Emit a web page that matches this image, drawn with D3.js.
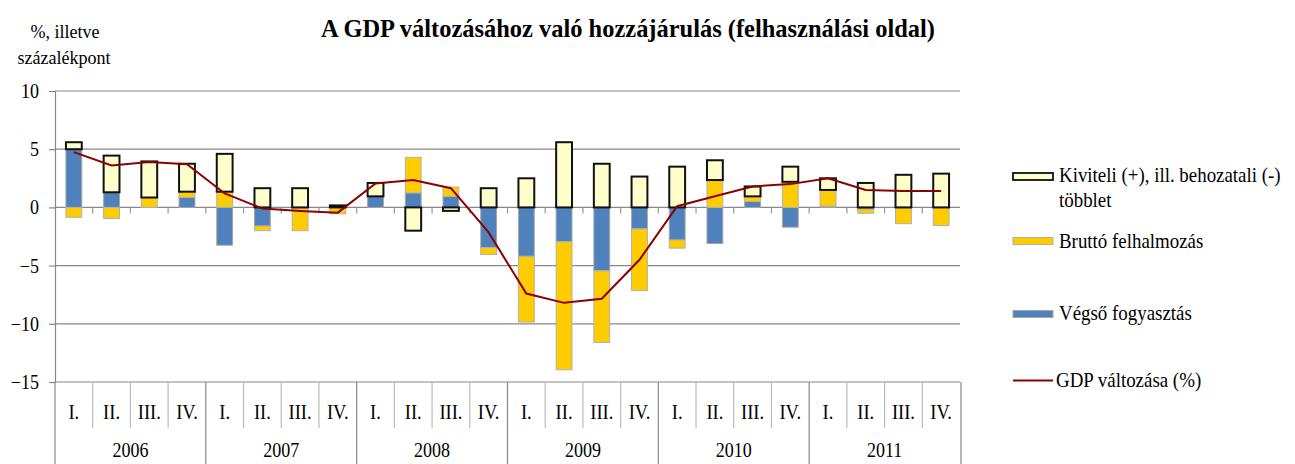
<!DOCTYPE html>
<html><head><meta charset="utf-8">
<script src="https://cdn.jsdelivr.net/npm/d3@7"></script>
</head><body style="margin:0;background:#fff"><svg id="c" width="1295" height="464"></svg>
<script>
const years = ["2006","2007","2008","2009","2010","2011"];
const quarters = ["I.","II.","III.","IV."];
const categories = years.flatMap(y => quarters.map(q => y + " " + q));
const vegsoFogyasztas = [5.0,1.3,0.0,0.85, -3.25,-1.6,-0.05,0.0, 0.95,1.25,0.95,-3.45, -4.2,-2.95,-5.45,-1.85, -2.8,-3.1,0.5,-1.7, 0.1,-0.15,-0.05,0.0];
const bruttoFelhalmozas = [-0.85,-0.95,0.85,0.5, 1.35,-0.4,-1.95,-0.55, 0.0,3.05,0.8,-0.6, -5.65,-11.0,-6.15,-5.3, -0.7,2.35,0.45,2.2, 1.4,-0.35,-1.35,-1.55];
const kiviteliTobblet = [0.6,3.15,3.1,2.4, 3.25,1.65,1.65,0.17, 1.15,-2.0,-0.3,1.65, 2.5,5.6,3.75,2.65, 3.5,1.7,0.85,1.3, 1.0,2.1,2.8,2.9];
const gdpValtozas = [4.75,3.6,3.9,3.7, 1.2,-0.1,-0.3,-0.45, 2.05,2.35,1.65,-2.15, -7.4,-8.2,-7.85,-4.5, 0.1,0.95,1.8,2.0, 2.5,1.5,1.4,1.4];
const yTicks = [10,5,0,-5,-10,-15];

const FONT = "Liberation Serif";
const svg = d3.select("#c").attr("font-family", FONT);
const L = 55, R = 960, T = 91, B = 382;
const x = d3.scaleBand().domain(categories).range([L, R]).padding(0);
const y = d3.scaleLinear().domain([-15, 10]).range([B, T]);
const bw = x.bandwidth() * 0.42;

function txt(g, xx, yy, s, size, anchor, squeeze) {
  const t = g.append("text").attr("x", xx).attr("y", yy).attr("font-family", FONT)
    .attr("font-size", size).attr("text-anchor", anchor || "start").attr("fill", "#000").text(s);
  if (squeeze) t.attr("data-f", squeeze);
  return t;
}

// gridlines
svg.append("g").selectAll("line").data(yTicks).join("line")
  .attr("x1", L).attr("x2", R).attr("y1", d => y(d)).attr("y2", d => y(d))
  .attr("stroke", "#888").attr("stroke-width", 1.2);

// y axis
const yAxis = d3.axisLeft(y).tickValues(yTicks).tickSize(6).tickPadding(10).tickFormat(d3.format("d"));
const ya = svg.append("g").attr("transform", `translate(${L},0)`).call(yAxis)
  .attr("font-family", FONT).attr("font-size", 20);
ya.select(".domain").attr("stroke", "#888").attr("stroke-width", 1.2);
ya.selectAll(".tick line").attr("stroke", "#888").attr("stroke-width", 1.2);
ya.selectAll("text").attr("font-family", FONT).attr("font-size", 20).attr("fill", "#000").attr("data-f", 0.9);

// zero axis tick marks at category boundaries
svg.append("g").selectAll("line").data(categories.slice(1)).join("line")
  .attr("x1", d => x(d)).attr("x2", d => x(d)).attr("y1", y(0)).attr("y2", y(0) + 6)
  .attr("stroke", "#999").attr("stroke-width", 1.2);

// stacked data
const rows = categories.map((c, i) => ({cat: c, v: vegsoFogyasztas[i], b: bruttoFelhalmozas[i], k: kiviteliTobblet[i]}));
const stack = d3.stack().keys(["v","b","k"]).offset(d3.stackOffsetDiverging);
const stacked = stack(rows);
const fills = {v: "#4F81BD", b: "#FFCC00", k: "#FFFFCC"};
const strokes = {v: "#a6a6a6", b: "#b0b0b0", k: "#111"};
const sw = {v: 1, b: 1, k: 2};
stacked.forEach(s => {
  svg.append("g").selectAll("rect").data(s.filter(d => d[1] - d[0] !== 0)).join("rect")
    .attr("x", d => x(d.data.cat) + (x.bandwidth() - bw) / 2)
    .attr("width", bw)
    .attr("y", d => y(Math.max(d[0], d[1])))
    .attr("height", d => Math.abs(y(d[0]) - y(d[1])))
    .attr("fill", fills[s.key]).attr("stroke", strokes[s.key]).attr("stroke-width", sw[s.key]);
});

// GDP line
const line = d3.line().x((d, i) => x(categories[i]) + x.bandwidth() / 2).y(d => y(d));
svg.append("path").datum(gdpValtozas).attr("d", line)
  .attr("fill", "none").attr("stroke", "#8B0000").attr("stroke-width", 2);

// category table
const tbl = svg.append("g");
categories.forEach((c, i) => {
  const xx = x(c);
  const isYear = i % 4 === 0;
  tbl.append("line").attr("x1", xx).attr("x2", xx).attr("y1", B).attr("y2", isYear ? 464 : 428)
    .attr("stroke", isYear ? "#888" : "#bbb").attr("stroke-width", 1.2);
  txt(tbl, xx + x.bandwidth() / 2, 419, quarters[i % 4], 22, "middle", 0.84);
});
tbl.append("line").attr("x1", R + 1).attr("x2", R + 1).attr("y1", B).attr("y2", 464).attr("stroke", "#888").attr("stroke-width", 1.2);
years.forEach((yr, j) => {
  const x0 = x(categories[j * 4]), x1 = x(categories[j * 4 + 3]) + x.bandwidth();
  txt(tbl, (x0 + x1) / 2, 457, yr, 20, "middle", 0.9);
});

// title & unit label
txt(svg, 628, 37, "A GDP változásához való hozzájárulás (felhasználási oldal)", 26, "middle").attr("font-weight", "bold")
  .attr("textLength", 614).attr("lengthAdjust", "spacingAndGlyphs");
txt(svg, 65, 38, "%, illetve", 19, "middle", 0.95);
txt(svg, 64, 64, "százalékpont", 19, "middle", 0.95);

// legend
const lg = svg.append("g");
const lx = 1013, tx = 1059;
lg.append("rect").attr("x", lx).attr("y", 173).attr("width", 40).attr("height", 7).attr("fill", fills.k).attr("stroke", "#111").attr("stroke-width", 1.8);
txt(lg, tx, 182, "Kiviteli (+), ill. behozatali (-)", 21, "start", 0.9);
txt(lg, tx, 207, "többlet", 21, "start", 0.9);
lg.append("rect").attr("x", lx).attr("y", 237.5).attr("width", 40).attr("height", 7).attr("fill", fills.b).attr("stroke", "#b0b0b0");
txt(lg, tx, 248, "Bruttó felhalmozás", 21, "start", 0.9);
lg.append("rect").attr("x", lx).attr("y", 310.5).attr("width", 40).attr("height", 7).attr("fill", fills.v).attr("stroke", "#a6a6a6");
txt(lg, tx, 320, "Végső fogyasztás", 21, "start", 0.9);
lg.append("line").attr("x1", lx).attr("x2", lx + 40).attr("y1", 380.5).attr("y2", 380.5).attr("stroke", "#8B0000").attr("stroke-width", 2);
txt(lg, tx - 3, 387, "GDP változása (%)", 21, "start", 0.9);

// horizontal condensation of text, as in the reference
svg.selectAll("text").each(function () {
  const f = +this.getAttribute("data-f");
  if (!f) return;
  const w = this.getComputedTextLength();
  this.setAttribute("textLength", (w * f).toFixed(1));
  this.setAttribute("lengthAdjust", "spacingAndGlyphs");
});
</script></body></html>
